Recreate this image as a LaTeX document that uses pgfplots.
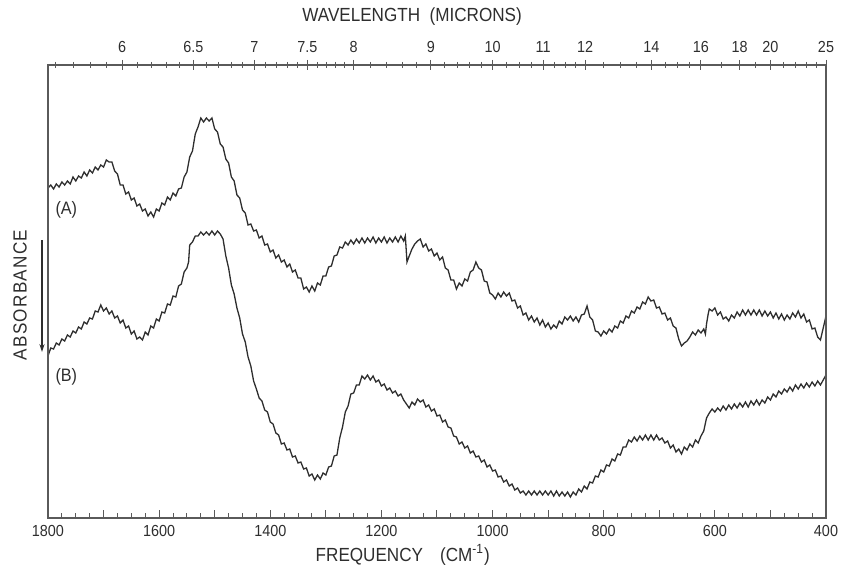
\documentclass[border=0pt]{standalone}
\usepackage{fontspec}
\setmainfont{Liberation Sans}
\newfontfamily\lab[FakeStretch=0.9]{Liberation Sans}
\newfontfamily\labsp[FakeStretch=0.9,LetterSpace=7]{Liberation Sans}
\usepackage{pgfplots}
\pgfplotsset{compat=1.18}
\usetikzlibrary{arrows.meta}
\definecolor{ink}{HTML}{2E2E2E}
\definecolor{frame}{HTML}{5A5A5A}

% spectrum (A): frequency (cm^-1), absorbance (arbitrary, increasing downwards)
\pgfplotstableread{
f y
1800 188
1795 185
1790 189
1785 184
1780 187
1775 182
1770 185
1765 181
1760 184
1755 177
1750 181
1745 176
1740 178
1735 172
1730 176
1725 170
1720 173
1715 167
1710 170
1705 165
1700 167
1695 160
1690 162
1685 162
1680 171
1675 174
1670 185
1665 185
1660 194
1655 192
1650 200
1645 198
1640 206
1635 204
1630 211
1625 209
1620 216
1615 212
1610 217
1605 209
1600 211
1595 203
1590 205
1585 197
1580 200
1575 193
1570 196
1565 189
1560 188
1555 177
1550 172
1545 157
1540 151
1535 134
1530 127
1525 118
1520 122
1515 118
1510 121
1505 118
1500 129
1495 132
1490 144
1485 147
1480 159
1475 163
1470 177
1465 181
1460 195
1455 198
1450 210
1445 213
1440 225
1435 224
1430 231
1425 230
1420 238
1415 236
1410 245
1405 244
1400 252
1395 250
1390 258
1385 255
1380 262
1375 260
1370 267
1365 264
1360 272
1355 270
1350 278
1345 278
1340 289
1335 287
1330 292
1325 286
1320 291
1315 283
1310 285
1305 276
1300 276
1295 267
1290 266
1285 256
1280 255
1275 247
1270 248
1265 242
1260 245
1255 240
1250 244
1245 239
1240 243
1235 238
1230 243
1225 238
1220 242
1215 237
1210 243
1205 238
1200 242
1195 237
1190 243
1185 238
1180 242
1175 237
1170 242
1165 236
1160 241
1157 236
1154 262
1150 256
1145 249
1140 244
1135 241
1130 239
1125 247
1120 244
1115 251
1110 249
1105 256
1100 253
1095 260
1090 257
1085 268
1080 270
1075 280
1070 280
1065 289
1060 283
1055 286
1050 279
1045 281
1040 272
1035 270
1030 262
1025 268
1020 270
1015 281
1010 282
1005 293
1000 295
995 299
990 293
985 297
980 292
975 296
970 293
965 301
960 300
955 308
950 306
945 315
940 313
935 320
930 316
925 322
920 318
915 325
910 320
905 327
900 323
895 329
890 325
885 328
880 321
875 324
870 317
865 320
860 316
855 321
850 317
845 322
840 315
835 314
830 306
825 317
820 320
815 331
810 332
805 336
800 331
795 334
790 329
785 332
780 326
775 328
770 321
765 323
760 316
755 318
750 311
745 313
740 307
735 309
730 302
725 304
720 297
715 301
710 300
705 308
700 307
695 314
690 313
685 320
680 318
675 326
670 328
665 339
660 346
655 343
650 341
645 337
640 332
635 335
630 330
625 333
620 329
617 334
615 324
612 314
610 309
605 311
600 308
595 315
590 312
585 319
580 317
575 321
570 315
565 318
560 312
555 316
550 310
545 315
540 310
535 315
530 310
525 315
520 310
515 316
510 311
505 316
500 312
495 318
490 313
485 319
480 314
475 320
470 315
465 319
460 313
455 317
450 311
445 318
440 314
435 322
430 320
425 329
420 328
415 337
410 340
405 328
400 316
}\specA

% spectrum (B)
\pgfplotstableread{
f y
1800 356
1795 348
1790 349
1785 343
1780 345
1775 339
1770 341
1765 335
1760 337
1755 331
1750 333
1745 327
1740 329
1735 322
1730 324
1725 318
1720 319
1715 311
1710 312
1705 305
1700 311
1695 308
1690 314
1685 311
1680 318
1675 316
1670 323
1665 320
1660 328
1655 326
1650 334
1645 331
1640 339
1635 337
1630 340
1625 332
1620 335
1615 326
1610 328
1605 319
1600 321
1595 312
1590 313
1585 304
1580 305
1575 296
1570 297
1565 286
1560 284
1555 272
1550 268
1547 262
1545 245
1540 242
1535 236
1530 236
1525 232
1520 235
1515 232
1510 235
1505 231
1500 235
1495 231
1490 234
1485 239
1480 256
1475 268
1470 285
1465 294
1460 308
1455 318
1450 334
1445 342
1440 357
1435 366
1430 381
1425 389
1420 398
1415 401
1410 410
1405 412
1400 422
1395 424
1390 433
1385 435
1380 444
1375 443
1370 450
1365 449
1360 457
1355 456
1350 463
1345 462
1340 469
1335 468
1330 476
1325 474
1320 480
1315 475
1310 479
1305 473
1300 475
1295 467
1290 466
1285 456
1280 455
1275 438
1270 427
1265 412
1260 406
1255 394
1250 393
1245 385
1240 385
1235 376
1230 379
1225 375
1220 380
1215 376
1210 382
1205 380
1200 386
1195 384
1190 390
1185 388
1180 393
1175 391
1170 396
1165 394
1160 400
1155 404
1150 408
1145 402
1140 405
1135 399
1130 402
1125 400
1120 407
1115 405
1110 411
1105 409
1100 416
1095 415
1090 422
1085 420
1080 427
1075 428
1070 436
1065 437
1060 444
1055 442
1050 448
1045 446
1040 453
1035 451
1030 457
1025 456
1020 462
1015 460
1010 467
1005 465
1000 471
995 470
990 477
985 476
980 482
975 480
970 486
965 484
960 490
955 488
950 493
945 491
940 495
935 491
930 495
925 491
920 495
915 491
910 495
905 491
900 495
895 491
890 496
885 491
880 496
875 492
870 496
865 492
860 497
855 492
850 495
845 489
840 492
835 486
830 489
825 482
820 483
815 476
810 477
805 470
800 472
795 465
790 466
785 459
780 461
775 454
770 455
765 447
760 447
755 440
750 442
745 437
740 441
735 436
730 440
725 435
720 440
715 435
710 440
705 435
700 440
695 438
690 443
685 441
680 448
675 445
670 452
665 449
660 454
655 447
650 450
645 444
640 447
635 440
630 443
625 436
620 431
615 418
610 413
605 409
600 412
595 408
590 411
585 406
580 410
575 405
570 409
565 404
560 408
555 403
550 407
545 402
540 407
535 401
530 405
525 400
520 405
515 400
510 403
505 397
500 400
495 394
490 397
485 391
480 394
475 389
470 392
465 387
460 391
455 385
450 389
445 384
440 388
435 383
430 387
425 382
420 386
415 381
410 385
405 380
400 375
}\specB

\pgfplotsset{
  spec frame/.style={
    at={(0pt,0pt)}, anchor=south west,
    scale only axis, width=389pt, height=226.5pt,
    x dir=reverse, xmin=400, xmax=1800,
    y dir=reverse, ymin=65, ymax=518,
    axis line style={frame, line width=0.7pt},
    tick style={frame, line width=0.5pt},
    ytick=\empty,
    ticklabel style={font=\lab\fontsize{8}{9}\selectfont, text=ink},
    label style={font=\lab\fontsize{9.5}{11}\selectfont, text=ink},
  },
}

\begin{document}
\begin{tikzpicture}
\path[use as bounding box] (-24pt,-26.5pt) rectangle (398pt,259pt);

% frequency scale (bottom) and the two spectra
\begin{axis}[
    spec frame,
    xtick={400,600,...,1800},
    minor x tick num=7,
    extra x ticks={500,700,...,1700},
    extra x tick labels={},
    xtick pos=bottom,
    tick align=inside,
    major tick length=4pt,
    minor tick length=2.5pt,
    /pgf/number format/1000 sep={},
    /pgf/number format/assume math mode=true,
    xlabel={FREQUENCY\hspace{0.9em}(CM\textsuperscript{-1})},
    xlabel style={at={(axis description cs:0.456,0)}, anchor=center, yshift=-18.5pt},
]
\addplot[ink, line width=0.65pt] table[x=f, y=y] {\specA};
\addplot[ink, line width=0.65pt] table[x=f, y=y] {\specB};
\node[font=\lab\fontsize{9}{10}\selectfont, text=ink] at (axis cs:1767,210) {(A)};
\node[font=\lab\fontsize{9}{10}\selectfont, text=ink] at (axis cs:1767,377) {(B)};
\end{axis}

% wavelength scale (top), ticks at 10000/lambda
\begin{axis}[
    spec frame,
    xtick pos=top, xticklabel pos=top,
    xtick={1666.67,1538.46,1428.57,1333.33,1250,1111.11,1000,909.09,833.33,714.29,625,555.56,500,400},
    xticklabels={6,6.5,7,7.5,8,9,10,11,12,14,16,18,20,25},
    minor xtick={1785.7,1754.4,1724.1,1694.9,1639.3,1612.9,1587.3,1562.5,
      1515.2,1492.5,1470.6,1449.3,1408.5,1388.9,1369.9,1351.4,
      1315.8,1298.7,1282.1,1265.8,1219.5,1190.5,1162.8,1136.4,
      1087.0,1063.8,1041.7,1020.4,975.6,952.4,930.2,888.9,869.6,851.1,
      800,769.2,740.7,689.7,666.7,645.2,588.2,526.3,476.2,454.5,434.8,416.7},
    tick align=center,
    major tick length=5pt,
    minor tick length=3pt,
    xlabel={WAVELENGTH\hspace{0.5em}(MICRONS)},
    xlabel style={at={(axis description cs:0.468,1)}, anchor=center, yshift=24pt},
]
\end{axis}

\draw[ink, line width=0.6pt, -{Stealth[length=4pt,width=2.6pt]}] (-3pt,139pt) -- (-3pt,83pt);
\node[rotate=90, font=\labsp\fontsize{9.5}{11}\selectfont, text=ink] at (-14pt,111.5pt) {ABSORBANCE};
\end{tikzpicture}
\end{document}
